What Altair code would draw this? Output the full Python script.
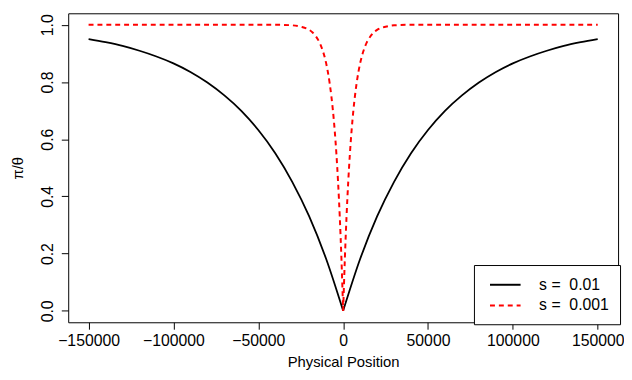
import altair as alt
import pandas as pd

series_labels = ["s = \u00a00.01", "s = \u00a00.001"]

# distance from the centre (same on both sides) and value
black_pos = [0, 10000, 20000, 30000, 40000, 50000, 60000, 70000, 80000,
             90000, 100000, 110000, 120000, 130000, 140000, 150000]
black_val = [0.0, 0.181, 0.330, 0.451, 0.551, 0.632, 0.699, 0.753, 0.798,
             0.835, 0.865, 0.889, 0.909, 0.926, 0.939, 0.950]

red_pos = [0, 1000, 2000, 3000, 4000, 5000, 6000, 7000, 8000, 10000, 12000,
           14000, 16000, 18000, 20000, 25000, 30000, 40000, 60000, 100000, 150000]
red_val = [0.0, 0.181, 0.330, 0.451, 0.551, 0.632, 0.699, 0.753, 0.798, 0.865, 0.909,
           0.939, 0.959, 0.973, 0.982, 0.993, 0.998, 1.0, 1.0, 1.0, 1.0]

x_ticks = [-150000, -100000, -50000, 0, 50000, 100000, 150000]
y_ticks = [0.0, 0.2, 0.4, 0.6, 0.8, 1.0]

rows = []
for lab, pos, val in ((series_labels[0], black_pos, black_val),
                      (series_labels[1], red_pos, red_val)):
    for side, sign in (("L", -1), ("R", 1)):
        for p, v in zip(pos, val):
            rows.append({"series": lab, "seg": lab + side, "x": sign * p, "y": v})
df = pd.DataFrame(rows)

FONT = "Liberation Sans"
LFS = 16   # tick / legend labels
TFS = 15   # axis titles

legend = alt.Legend(
    title=None, orient="none", legendX=411, legendY=255,
    strokeColor="black", fillColor="white", padding=11,
    symbolType="M-1,0H3", symbolSize=240, symbolStrokeWidth=2, symbolOffset=4,
    labelFontSize=LFS, labelFont=FONT, labelColor="black", labelOffset=33,
    rowPadding=4,
)

base = alt.Chart(df).encode(
    x=alt.X("x:Q",
            scale=alt.Scale(domain=[-162000, 162000], nice=False, zero=False),
            axis=alt.Axis(values=x_ticks, format="d", title="Physical Position",
                          labelPadding=4, titlePadding=6)),
    y=alt.Y("y:Q",
            scale=alt.Scale(domain=[-0.04, 1.04], nice=False, zero=False),
            axis=alt.Axis(values=y_ticks, format=".1f", title="π/θ",
                          labelAngle=270, labelAlign="center", labelBaseline="bottom",
                          labelPadding=6, titlePadding=14)),
    color=alt.Color("series:N",
                    scale=alt.Scale(domain=series_labels, range=["black", "red"]),
                    legend=legend),
    strokeDash=alt.StrokeDash("series:N",
                              scale=alt.Scale(domain=series_labels, range=[[], [5, 4]]),
                              legend=legend),
    detail="seg:N",
)

black = base.transform_filter(alt.datum.series == series_labels[0]).mark_line(
    interpolate="monotone", strokeWidth=1.8)
red = base.transform_filter(alt.datum.series == series_labels[1]).mark_line(
    interpolate="monotone", strokeWidth=2)

chart = alt.layer(black, red).properties(
    width=624, height=364,
    padding={"left": 3, "top": 3, "right": 2, "bottom": 0},
    autosize=alt.AutoSizeParams(type="fit", contains="padding"),
).configure_view(
    stroke="black", strokeWidth=1
).configure_axis(
    grid=False, domain=False, tickColor="black", tickSize=7, tickWidth=1,
    labelFont=FONT, labelFontSize=LFS, labelColor="black",
    titleFont=FONT, titleFontSize=TFS, titleFontWeight="normal", titleColor="black",
)

chart.save("out.html", embed_options={"renderer": "svg", "actions": False})
